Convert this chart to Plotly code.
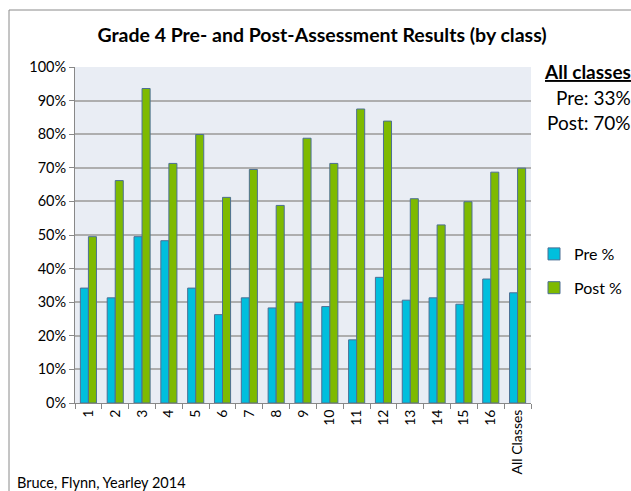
import plotly.graph_objects as go

categories = ["1", "2", "3", "4", "5", "6", "7", "8", "9", "10", "11", "12", "13", "14", "15", "16", "All Classes"]
pre_pct = [34.2, 31.3, 49.5, 48.3, 34.2, 26.3, 31.3, 28.3, 29.9, 28.7, 18.8, 37.4, 30.6, 31.3, 29.4, 36.9, 32.8]
post_pct = [49.5, 66.2, 93.6, 71.3, 79.9, 61.2, 69.5, 58.8, 78.8, 71.3, 87.5, 83.9, 60.8, 53.0, 59.9, 68.7, 69.9]
y_ticks = [0, 10, 20, 30, 40, 50, 60, 70, 80, 90, 100]
y_tick_labels = [f"{v}%" for v in y_ticks]

FONT = "Lato, Calibri, Carlito, sans-serif"
W, H = 631, 491
# plot area in reference pixels: x 75..531, y 67..403
PL, PR, PT, PB = 75, 531, 67, 403
L, R, T, B = PL, W - PR, PT, H - PB
pw, ph = PR - PL, PB - PT

def px_x(x):
    return (x - PL) / pw

def px_y(y):
    return (PB - y) / ph

fig = go.Figure()
fig.add_trace(go.Bar(x=categories, y=pre_pct, name="Pre %",
                     marker=dict(color="#00BFDD", line=dict(color="#4C6F94", width=1)),
                     legendgroup="a"))
fig.add_trace(go.Bar(x=categories, y=post_pct, name="Post %",
                     marker=dict(color="#7EBA00", line=dict(color="#4C6F94", width=1)),
                     legendgroup="b"))

fig.update_layout(
    width=W, height=H,
    margin=dict(l=L, r=R, t=T, b=B, autoexpand=False),
    paper_bgcolor="white",
    plot_bgcolor="#E9EDF4",
    barmode="group",
    bargap=0.4,
    bargroupgap=0,
    font=dict(family=FONT, size=14, color="#000000"),
    title=dict(text="<b>Grade 4 Pre- and Post-Assessment Results (by class)</b>",
               x=322 / W, xanchor="center", xref="container",
               y=1 - 35 / H, yanchor="middle", yref="container",
               font=dict(family=FONT, size=19.5, color="#000000")),
    showlegend=True,
    legend=dict(x=px_x(534), xanchor="left", y=px_y(271), yanchor="middle",
                font=dict(family=FONT, size=16), traceorder="grouped",
                itemwidth=30, tracegroupgap=10, bgcolor="rgba(0,0,0,0)"),
    xaxis=dict(tickangle=-90, ticks="outside", ticklen=5, tickcolor="#888888",
               tickson="boundaries", showline=True, linecolor="#888888",
               tickfont=dict(family=FONT, size=14), showgrid=False,
               automargin=False),
    yaxis=dict(range=[0, 100], tickvals=y_ticks, ticktext=y_tick_labels,
               ticks="outside", ticklen=5, tickcolor="#888888",
               showline=True, linecolor="#888888",
               showgrid=True, gridcolor="#AEAEAE", gridwidth=1.5,
               tickfont=dict(family=FONT, size=14.5), zeroline=False,
               automargin=False),
)

fig.add_shape(type="rect", xref="paper", yref="paper",
              x0=px_x(9), x1=px_x(700), y0=px_y(560), y1=px_y(10),
              line=dict(color="#8A8A8A", width=1), fillcolor="rgba(0,0,0,0)", layer="below")

for txt, yy in [("<b><u>All classes</u></b>", 72), ("Pre: 33%", 97), ("Post: 70%", 122)]:
    fig.add_annotation(text=txt, xref="paper", yref="paper",
                       x=px_x(633), y=px_y(yy), xanchor="right", yanchor="middle",
                       showarrow=False, font=dict(family=FONT, size=19))
fig.add_annotation(text="Bruce, Flynn, Yearley 2014", xref="paper", yref="paper",
                   x=px_x(15), y=px_y(482), xanchor="left", yanchor="middle",
                   showarrow=False, font=dict(family=FONT, size=14.5))

fig.write_html(
    "out.html",
    config={"displayModeBar": False},
    post_script="document.body.style.margin='0';document.body.style.overflow='hidden';",
)
